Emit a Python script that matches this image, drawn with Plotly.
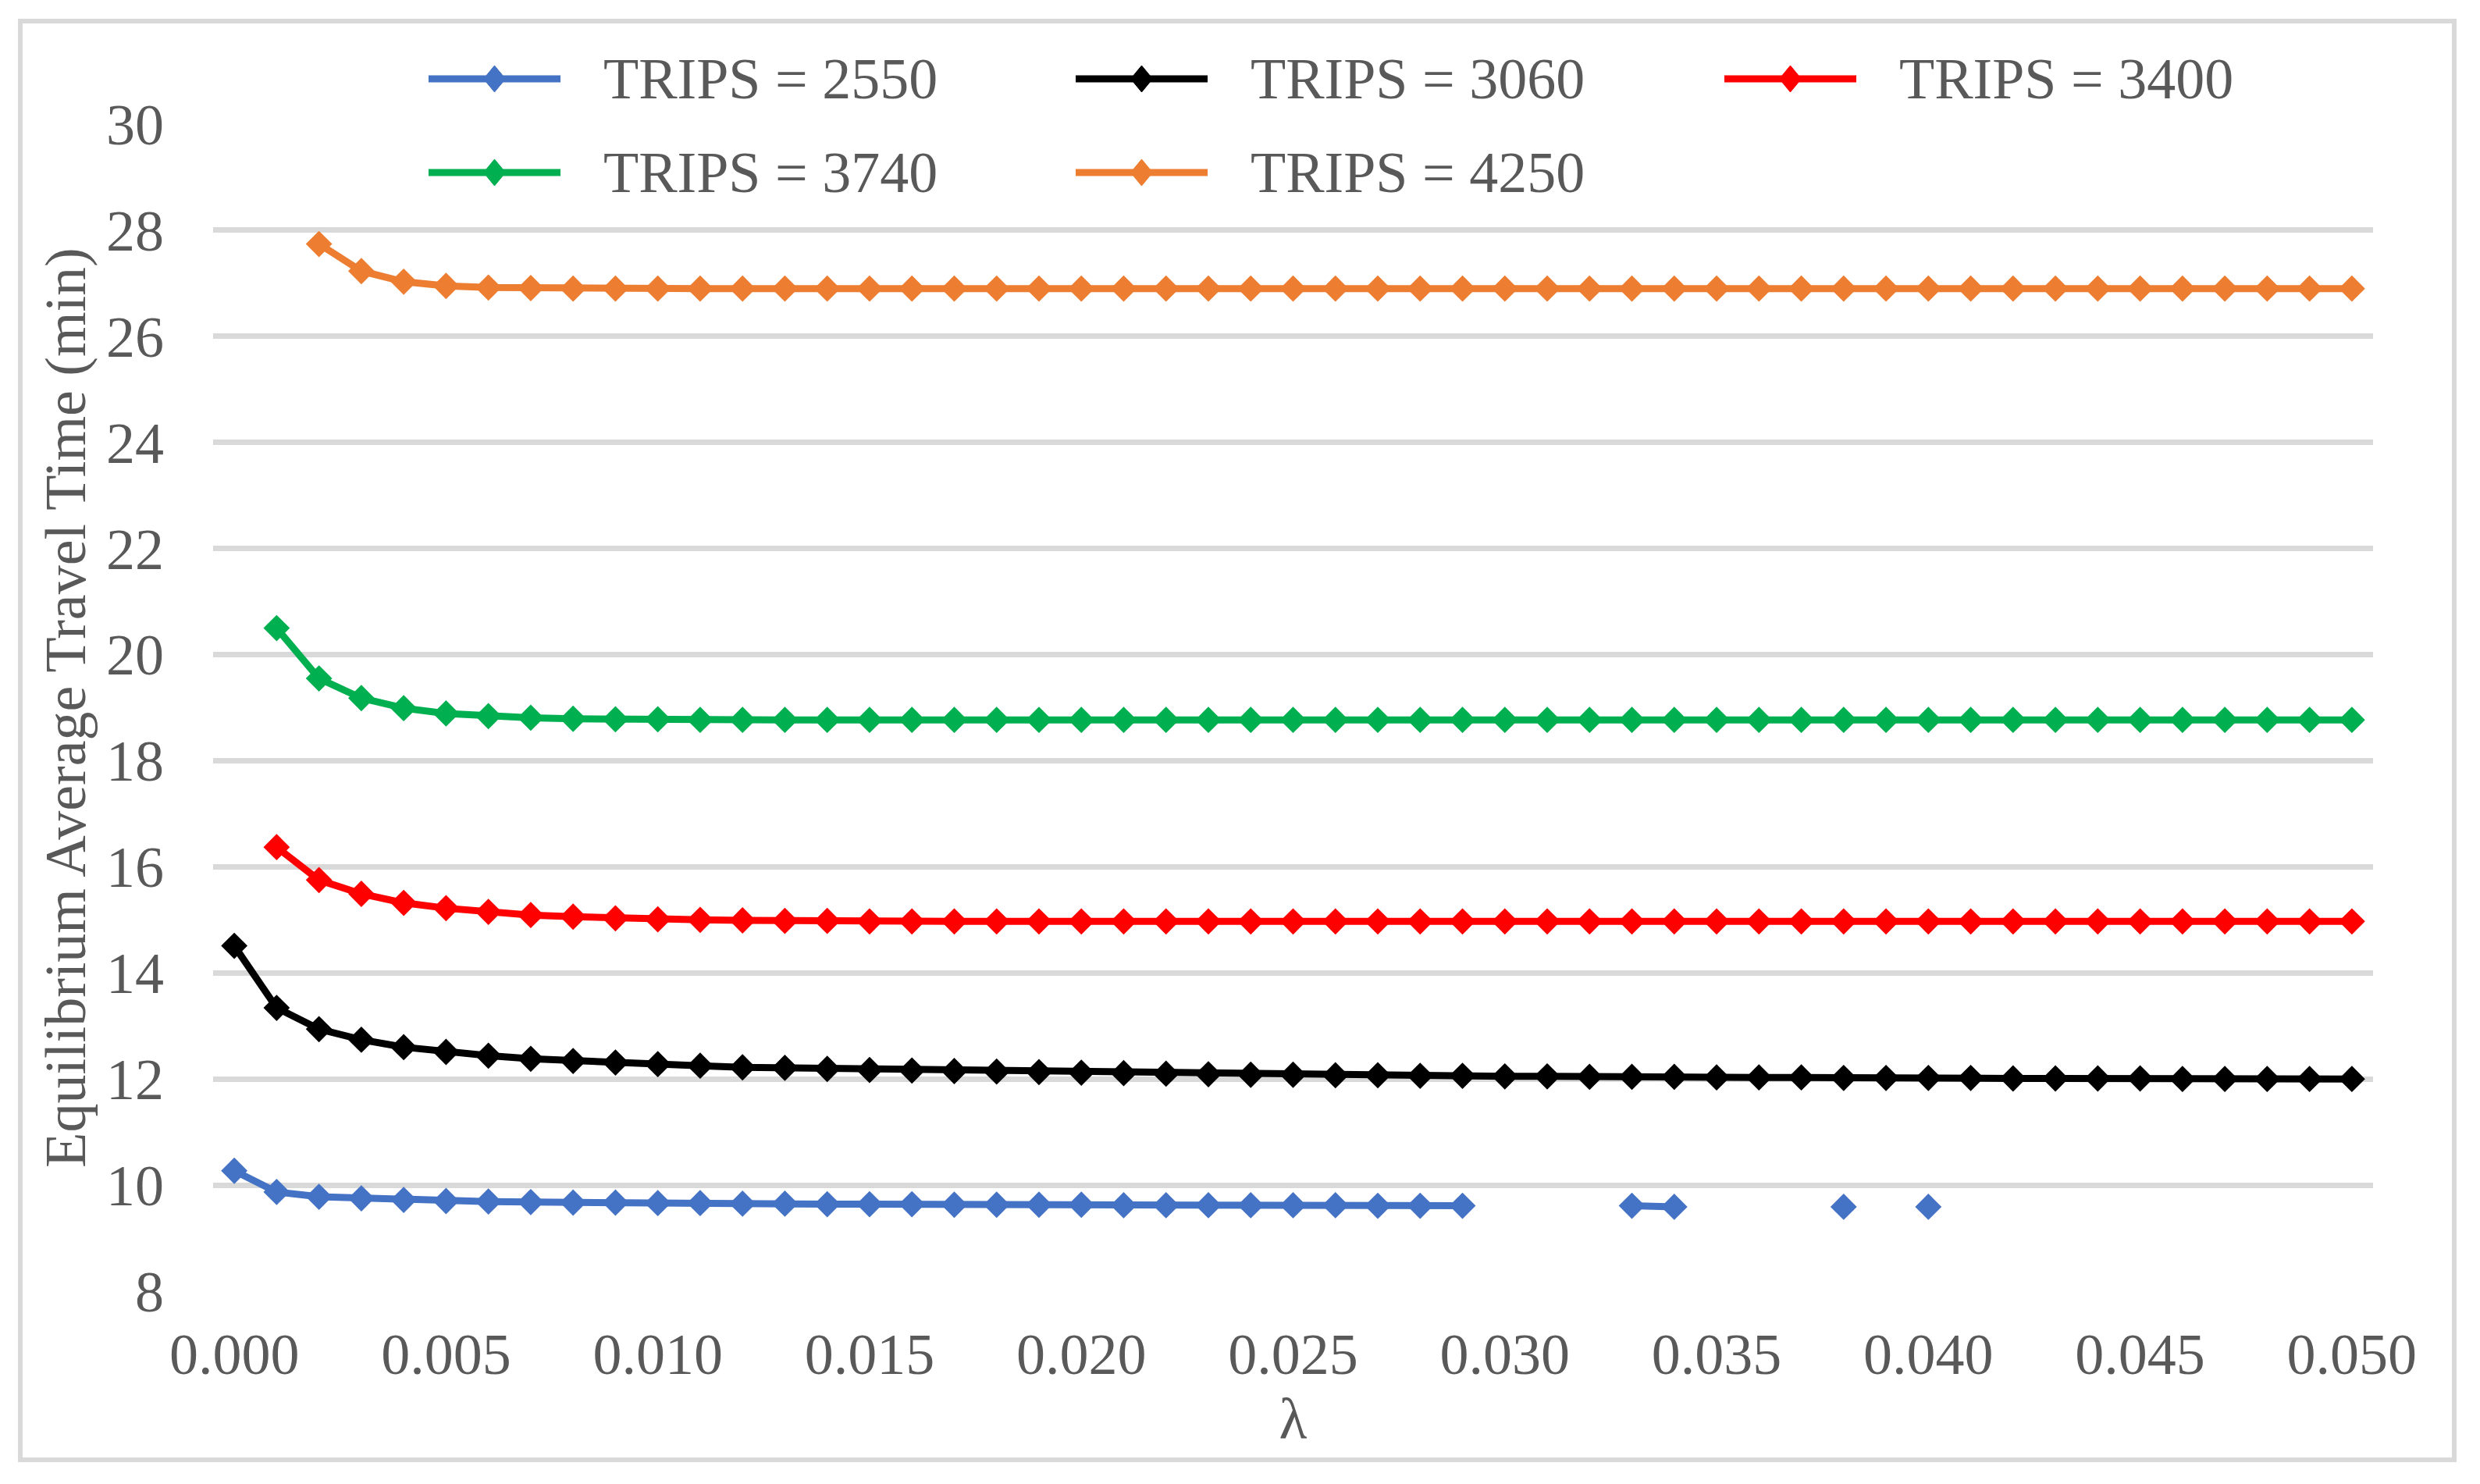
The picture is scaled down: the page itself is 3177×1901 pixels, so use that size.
import plotly.graph_objects as go

# ---------------- data ----------------
lam = [0.000, 0.001, 0.002, 0.003, 0.004, 0.005, 0.006, 0.007, 0.008, 0.009,
       0.010, 0.011, 0.012, 0.013, 0.014, 0.015, 0.016, 0.017, 0.018, 0.019,
       0.020, 0.021, 0.022, 0.023, 0.024, 0.025, 0.026, 0.027, 0.028, 0.029,
       0.030, 0.031, 0.032, 0.033, 0.034, 0.035, 0.036, 0.037, 0.038, 0.039,
       0.040, 0.041, 0.042, 0.043, 0.044, 0.045, 0.046, 0.047, 0.048, 0.049,
       0.050]

trips_2550 = [10.27, 9.87, 9.78, 9.75, 9.72, 9.70, 9.69, 9.68, 9.67, 9.67,
              9.66, 9.66, 9.65, 9.65, 9.64, 9.64, 9.64, 9.63, 9.63, 9.63,
              9.63, 9.62, 9.62, 9.62, 9.62, 9.62, 9.62, 9.61, 9.61, 9.61,
              None, None, None, 9.61, 9.59, None, None, None, 9.59, None,
              9.59, None, None, None, None, None, None, None, None, None,
              None]

trips_3060 = [14.51, 13.34, 12.94, 12.74, 12.60, 12.51, 12.44, 12.38, 12.34, 12.31,
              12.28, 12.25, 12.22, 12.21, 12.19, 12.17, 12.16, 12.15, 12.14, 12.13,
              12.12, 12.11, 12.10, 12.09, 12.08, 12.08, 12.07, 12.07, 12.06, 12.06,
              12.05, 12.05, 12.04, 12.04, 12.04, 12.03, 12.03, 12.03, 12.02, 12.02,
              12.02, 12.02, 12.01, 12.01, 12.01, 12.01, 12.00, 12.00, 12.00, 12.00,
              12.00]

trips_3400 = [None, 16.37, 15.75, 15.49, 15.32, 15.22, 15.15, 15.09, 15.06, 15.03,
              15.01, 15.00, 14.99, 14.98, 14.98, 14.97, 14.97, 14.97, 14.97, 14.97,
              14.97, 14.97, 14.97, 14.97, 14.97, 14.97, 14.97, 14.97, 14.97, 14.97,
              14.97, 14.97, 14.97, 14.97, 14.97, 14.97, 14.97, 14.97, 14.97, 14.97,
              14.97, 14.97, 14.97, 14.97, 14.97, 14.97, 14.97, 14.97, 14.97, 14.97,
              14.97]

trips_3740 = [None, 20.50, 19.55, 19.18, 18.99, 18.89, 18.84, 18.81, 18.79, 18.78,
              18.78, 18.77, 18.77, 18.77, 18.77, 18.77, 18.77, 18.77, 18.77, 18.77,
              18.77, 18.77, 18.77, 18.77, 18.77, 18.77, 18.77, 18.77, 18.77, 18.77,
              18.77, 18.77, 18.77, 18.77, 18.77, 18.77, 18.77, 18.77, 18.77, 18.77,
              18.77, 18.77, 18.77, 18.77, 18.77, 18.77, 18.77, 18.77, 18.77, 18.77,
              18.77]

trips_4250 = [None, None, 27.74, 27.23, 27.03, 26.95, 26.92, 26.91, 26.90, 26.90,
              26.90, 26.90, 26.90, 26.90, 26.90, 26.90, 26.90, 26.90, 26.90, 26.90,
              26.90, 26.90, 26.90, 26.90, 26.90, 26.90, 26.90, 26.90, 26.90, 26.90,
              26.90, 26.90, 26.90, 26.90, 26.90, 26.90, 26.90, 26.90, 26.90, 26.90,
              26.90, 26.90, 26.90, 26.90, 26.90, 26.90, 26.90, 26.90, 26.90, 26.90,
              26.90]

series_names = ["TRIPS = 2550", "TRIPS = 3060", "TRIPS = 3400", "TRIPS = 3740", "TRIPS = 4250"]
series_values = [trips_2550, trips_3060, trips_3400, trips_3740, trips_4250]
series_colors = ["#4472C4", "#000000", "#FF0000", "#00B050", "#ED7D31"]

x_tick_vals = [0.000, 0.005, 0.010, 0.015, 0.020, 0.025, 0.030, 0.035, 0.040, 0.045, 0.050]
x_tick_text = ["0.000", "0.005", "0.010", "0.015", "0.020", "0.025", "0.030", "0.035", "0.040", "0.045", "0.050"]
y_tick_vals = [8, 10, 12, 14, 16, 18, 20, 22, 24, 26, 28, 30]

# ---------------- layout constants (page pixels) ----------------
OFF = 8                      # default body margin of the html page
W, H = 3177 - OFF, 1901 - OFF
PL, PR, PT, PB = 273 - OFF, 3040 - OFF, 159 - OFF, 1654 - OFF
FONT = "Liberation Serif, Times New Roman, serif"
TXT = "#595959"
GRID = "#D9D9D9"
FS = 74


def px_x(p):
    return (p - OFF - PL) / (PR - PL)


def px_y(p):
    return (PB - (p - OFF)) / (PB - PT)


fig = go.Figure()
for name, vals, col in zip(series_names, series_values, series_colors):
    fig.add_trace(go.Scatter(
        x=lam, y=vals, name=name, mode="lines+markers",
        line=dict(color=col, width=9),
        marker=dict(symbol="diamond", size=26, color=col),
        connectgaps=False, showlegend=False,
    ))

shapes = []
annotations = []
# outer chart border
shapes.append(dict(type="rect", xref="paper", yref="paper",
                   x0=px_x(26), x1=px_x(3144), y0=px_y(1870), y1=px_y(27),
                   line=dict(color=GRID, width=6), fillcolor="rgba(0,0,0,0)", layer="below"))

# custom legend (3 columns x 2 rows)
col_start = [549, 1378, 2209]
row_y = [101, 221]
line_len = 169
text_off = 222
for i, (name, col) in enumerate(zip(series_names, series_colors)):
    r, c = divmod(i, 3)
    x0 = col_start[c]
    yc = row_y[r]
    shapes.append(dict(type="line", xref="paper", yref="paper",
                       x0=px_x(x0), x1=px_x(x0 + line_len), y0=px_y(yc), y1=px_y(yc),
                       line=dict(color=col, width=9)))
    mx = x0 + line_len / 2
    hw, hh = 14, 17
    path = "M {a},{b} L {c},{d} L {e},{f} L {g},{h} Z".format(
        a=px_x(mx - hw), b=px_y(yc),
        c=px_x(mx), d=px_y(yc - hh),
        e=px_x(mx + hw), f=px_y(yc),
        g=px_x(mx), h=px_y(yc + hh))
    shapes.append(dict(type="path", xref="paper", yref="paper", path=path,
                       fillcolor=col, line=dict(color=col, width=1)))
    annotations.append(dict(xref="paper", yref="paper", x=px_x(x0 + text_off), y=px_y(yc),
                            xanchor="left", yanchor="middle", text=name, showarrow=False,
                            font=dict(family=FONT, size=FS, color=TXT)))

fig.update_layout(
    width=W, height=H,
    margin=dict(l=PL, r=W - PR, t=PT, b=H - PB, autoexpand=False),
    paper_bgcolor="white", plot_bgcolor="white",
    font=dict(family=FONT, size=FS, color=TXT),
    showlegend=False,
    shapes=shapes,
    annotations=annotations,
    xaxis=dict(
        range=[-0.0005, 0.0505], tickvals=x_tick_vals, ticktext=x_tick_text,
        showgrid=False, zeroline=False, showline=False, ticks="",
        ticklabelstandoff=31,
        title=dict(text="λ", font=dict(family=FONT, size=FS, color=TXT), standoff=0),
        automargin=False,
    ),
    yaxis=dict(
        range=[8, 30], tickvals=y_tick_vals,
        showgrid=True, gridcolor=GRID, gridwidth=6.5, zeroline=False, showline=False, ticks="",
        ticklabelstandoff=62,
        title=dict(text="Equilibrium Average Travel Time (min)",
                   font=dict(family=FONT, size=FS, color=TXT), standoff=2),
        automargin=False,
    ),
)

fig.write_html("out.html")
